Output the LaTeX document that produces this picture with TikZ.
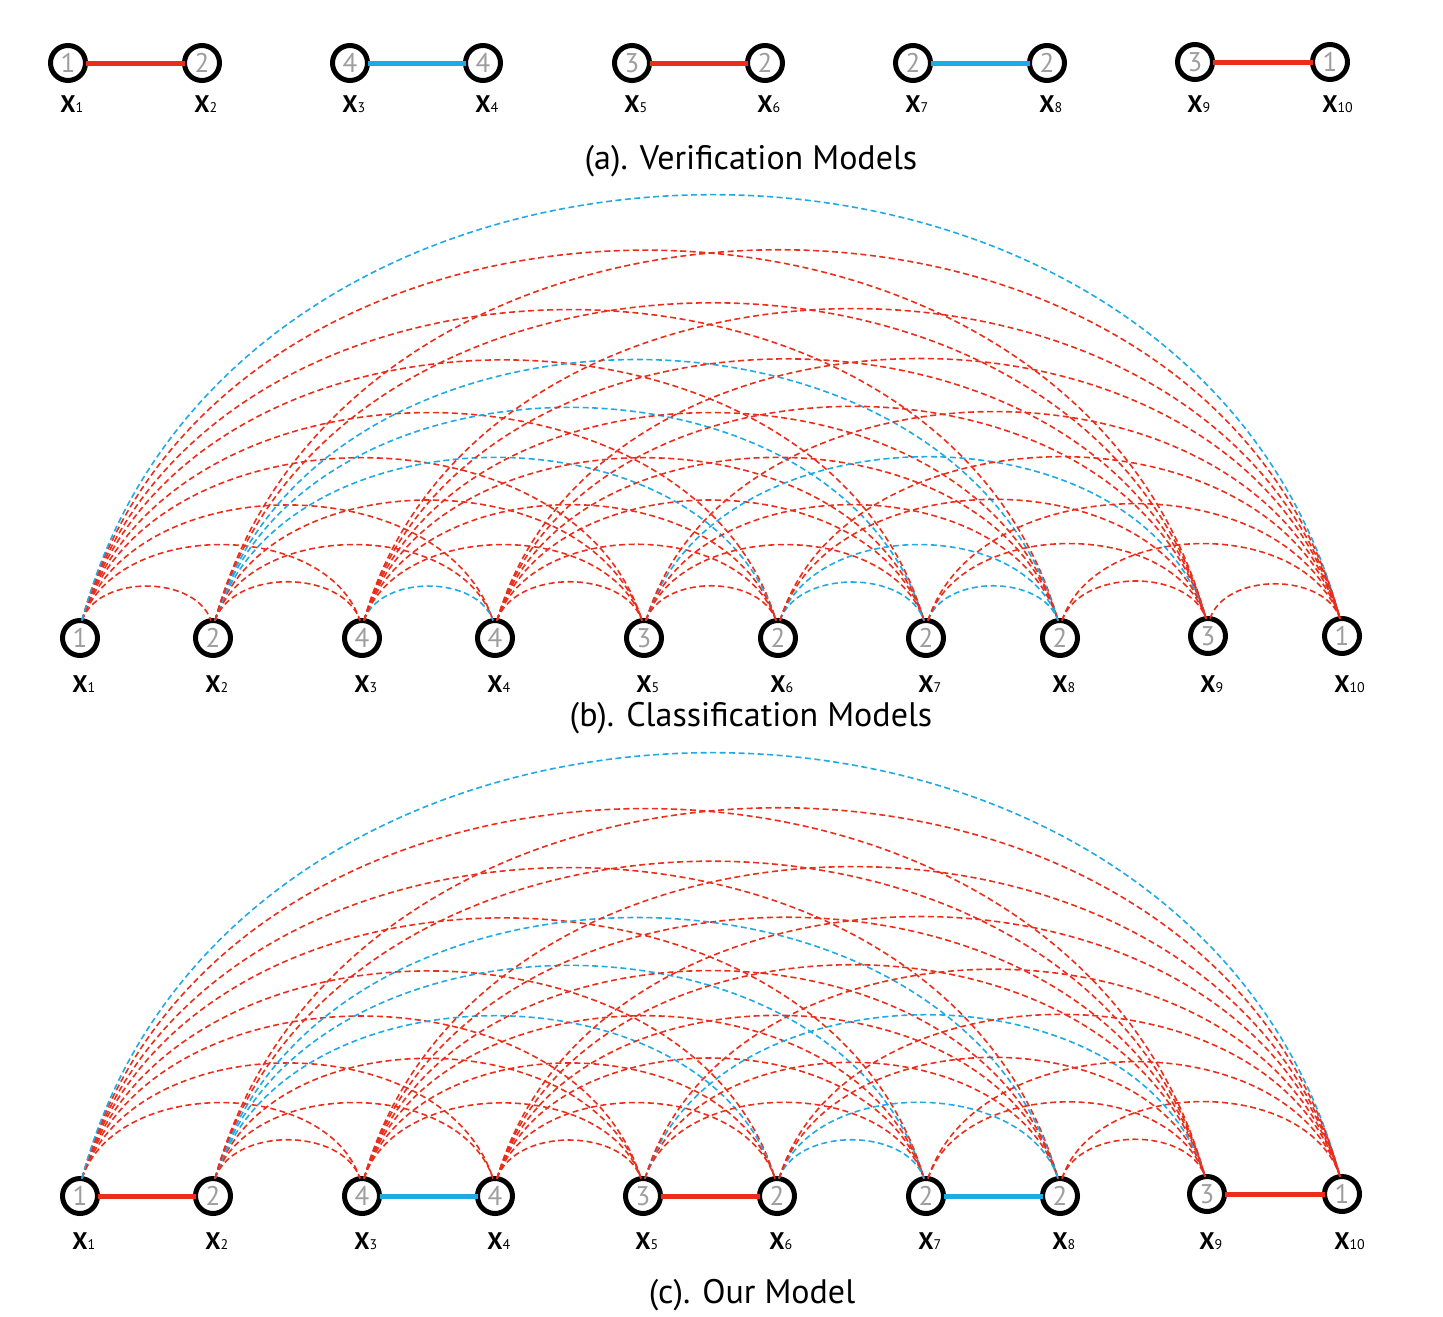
\documentclass[tikz,border=0pt]{standalone}
\usepackage{fontspec}
\setmainfont{PT Sans}
\usetikzlibrary{calc}
\definecolor{cred}{HTML}{EC2D1B}
\definecolor{cblue}{HTML}{1FAAE6}
\definecolor{cgray}{HTML}{9E9E9E}
\tikzset{
  vnode/.style={circle, draw=black, line width=5pt, minimum size=35pt, inner sep=0pt, outer sep=0pt, fill=white, text=cgray, font=\fontsize{27}{27}\selectfont},
  xlab/.style={anchor=base, inner sep=0pt, font=\fontsize{24}{24}\selectfont\bfseries},
  ptitle/.style={anchor=base, inner sep=0pt, font=\fontsize{34}{34}\selectfont},
  solidred/.style={draw=cred, line width=5pt},
  solidblue/.style={draw=cblue, line width=5pt},
  arcline/.style={dash pattern=on 6pt off 3.5pt, line width=1.6pt},
}
\newcommand\xsub[1]{\rlap{\fontsize{14}{14}\selectfont\mdseries #1}}
\newcommand\drawarcs[2]{%
 \foreach \i in {1,...,9}{%
  \pgfmathtruncatemacro\js{\i+1}%
  \foreach \j in {\js,...,10}{%
   \pgfmathtruncatemacro\li{{1,2,4,4,3,2,2,2,3,1}[\i-1]}%
   \pgfmathtruncatemacro\lj{{1,2,4,4,3,2,2,2,3,1}[\j-1]}%
   \pgfmathtruncatemacro\jn{\i+1}%
   \def\skipit{0}%
   \ifnum#2=1 \ifodd\i\relax \ifnum\j=\jn\relax \def\skipit{1}\fi\fi\fi
   \ifnum\skipit=0
     \ifnum\li=\lj\relax\def\acol{cblue}\else\def\acol{cred}\fi
     \draw[arcline,draw=\acol] let \p1=(#1\i.north), \p2=(#1\j.north), \n1={\x2-\x1} in
       ($(\p1)+(2pt,0pt)$) .. controls +({0.12*\n1},{0.3333*\n1+(0.0000933*\n1)*\n1}) and +({-0.12*\n1},{0.3333*\n1+(0.0000933*\n1)*\n1}) .. ($(\p2)+(-2pt,0pt)$);
   \fi
  }}}
\begin{document}
\begin{tikzpicture}[x=1pt,y=-1pt]
\useasboundingbox (0,0) rectangle (1443,1317);
% ---------- (a)
\foreach \n/\x/\y/\l in {1/68/63/1,2/202/63/2,3/350/63/4,4/483/63/4,5/632/63/3,6/765/63/2,7/913/63/2,8/1047/63/2,9/1195/62/3,10/1330/62/1}{
  \node[vnode] (a\n) at (\x,\y) {\l};
  \node[xlab] (la\n) at (\x,112) {X\xsub{\n}};
}
\draw[solidred] (a1) -- (a2);
\draw[solidblue] (a3) -- (a4);
\draw[solidred] (a5) -- (a6);
\draw[solidblue] (a7) -- (a8);
\draw[solidred] (a9) -- (a10);
\node[ptitle] (ta) at (751,169) {(a). Verification Models};
% ---------- (b)
\foreach \n/\x/\y/\l in {1/80/638/1,2/213/638/2,3/362/638/4,4/495/638/4,5/644/638/3,6/778/638/2,7/926/638/2,8/1060/638/2,9/1208/636/3,10/1342/636/1}{
  \node[vnode] (b\n) at (\x,\y) {\l};
  \node[xlab] (lb\n) at (\x,692) {X\xsub{\n}};
}
\drawarcs{b}{0}
\node[ptitle] (tb) at (751,726) {(b). Classification Models};
% ---------- (c)
\foreach \n/\x/\y/\l in {1/80/1196/1,2/213/1196/2,3/362/1196/4,4/495/1196/4,5/643/1196/3,6/777/1196/2,7/926/1196/2,8/1060/1196/2,9/1207/1194/3,10/1342/1194/1}{
  \node[vnode] (c\n) at (\x,\y) {\l};
  \node[xlab] (lc\n) at (\x,1249) {X\xsub{\n}};
}
\drawarcs{c}{1}
\draw[solidred] (c1) -- (c2);
\draw[solidblue] (c3) -- (c4);
\draw[solidred] (c5) -- (c6);
\draw[solidblue] (c7) -- (c8);
\draw[solidred] (c9) -- (c10);
\node[ptitle] (tc) at (752,1303) {(c). Our Model};
\end{tikzpicture}
\end{document}
